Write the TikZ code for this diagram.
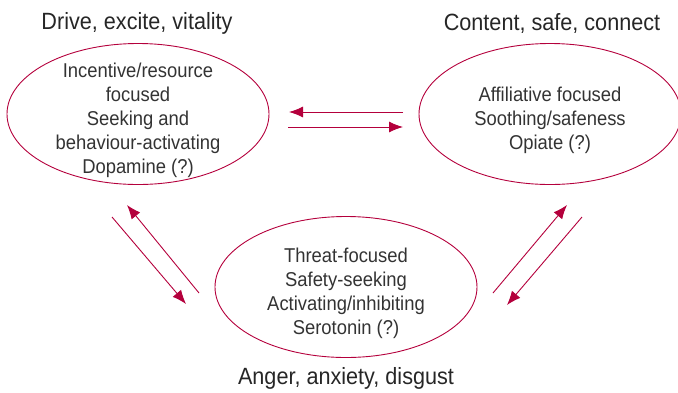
\documentclass[tikz,border=0pt]{standalone}
\usepackage{fontspec}
\setmainfont{Liberation Sans}[FakeStretch=0.92]
\usetikzlibrary{shapes,arrows.meta}
\definecolor{crimson}{RGB}{180,0,60}
\newcommand{\system}[4]{\node[draw=crimson,line width=0.9pt,ellipse,inner sep=0pt,minimum width=262pt,minimum height=141pt] (#1) at (#2,#3) {};
  \node[align=center,font=\fontsize{20}{24}\selectfont,text=black!80,yshift=-6pt] (#1text) at (#2,#3) {#4};}
\newcommand{\mood}[4]{\node[font=\fontsize{23.5}{26}\selectfont,text=black!85] (#1) at (#2,#3) {#4};}
\newcommand{\flow}[2]{\draw[crimson,line width=0.9pt,-{Latex[length=14pt,width=11pt]}] (#1) -- (#2);}

\begin{document}
\begin{tikzpicture}[x=1pt,y=-1pt]
    \useasboundingbox (0,0) rectangle (678,392);
    \system{drive}{138}{114}{Incentive/resource\\focused\\Seeking and\\behaviour-activating\\Dopamine (?)}
    \system{soothe}{550}{114}{Affiliative focused\\Soothing/safeness\\Opiate (?)}
    \system{threat}{346}{287}{Threat-focused\\Safety-seeking\\Activating/inhibiting\\Serotonin (?)}
    \mood{drivelabel}{137}{23}{Drive, excite, vitality}
    \mood{soothelabel}{552}{23}{Content, safe, connect}
    \mood{threatlabel}{346}{378}{Anger, anxiety, disgust}
    % free ends of the arrows
    \coordinate (a1) at (403,112); \coordinate (a2) at (289,112);
    \coordinate (b1) at (288,127); \coordinate (b2) at (403,127);
    \coordinate (c1) at (199,293); \coordinate (c2) at (127,205);
    \coordinate (d1) at (112,217); \coordinate (d2) at (186,304);
    \coordinate (e1) at (493,293); \coordinate (e2) at (567,205);
    \coordinate (f1) at (582,217); \coordinate (f2) at (507,305);
    \flow{a1}{a2}\flow{b1}{b2}
    \flow{c1}{c2}\flow{d1}{d2}
    \flow{e1}{e2}\flow{f1}{f2}
\end{tikzpicture}
\end{document}
